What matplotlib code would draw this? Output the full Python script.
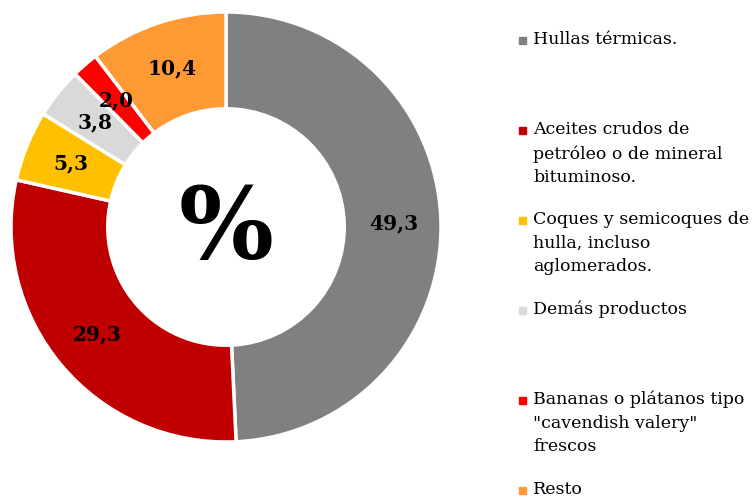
import numpy as np
import matplotlib
matplotlib.use("Agg")
from matplotlib import pyplot as plt

labels = ["Hullas térmicas.",
          "Aceites crudos de\npetróleo o de mineral\nbituminoso.",
          "Coques y semicoques de\nhulla, incluso\naglomerados.",
          "Demás productos",
          "Bananas o plátanos tipo\n\"cavendish valery\"\nfrescos",
          "Resto"]
values = [49.3, 29.3, 5.3, 3.8, 2.0, 10.4]
colors = ["#808080", "#C00000", "#FFC000", "#D9D9D9", "#FF0000", "#FF9933"]

serif = "DejaVu Serif"

fig = plt.figure(figsize=(7.54, 4.99), dpi=100)
ax = fig.add_axes([11/754, 57/499, 430/754, 430/499])

wedges, _ = ax.pie(values, colors=colors, startangle=90, counterclock=False,
                   radius=1.0, wedgeprops=dict(width=0.45, edgecolor="white", linewidth=2.5))
ax.set_aspect("equal")
ax.set_xlim(-1, 1)
ax.set_ylim(-1, 1)

# value labels in the middle of the ring
for w, v in zip(wedges, values):
    ang = np.deg2rad((w.theta1 + w.theta2) / 2)
    r = 0.78
    ax.text(r*np.cos(ang), r*np.sin(ang), f"{v:.1f}".replace(".", ","),
            ha="center", va="center", fontsize=14.5, fontweight="bold",
            family=serif, color="black")

ax.text(0, -0.02, "%", ha="center", va="center", fontsize=72,
        fontweight="bold", family=serif)

# legend drawn by hand (entries are evenly spaced, text top aligned)
y0 = 41
step = 89.8
for i, (lab, c) in enumerate(zip(labels, colors)):
    ypx = y0 + step*i
    yf = 1 - ypx/499
    fig.patches.append(plt.Rectangle((519/754, yf - 3.5/499), 7/754, 7/499,
                                     transform=fig.transFigure, color=c))
    fig.text(533/754, yf + 9.5/499, lab, ha="left", va="top", fontsize=12.5,
             family=serif, linespacing=1.5)

fig.savefig("out.png", dpi=100)
